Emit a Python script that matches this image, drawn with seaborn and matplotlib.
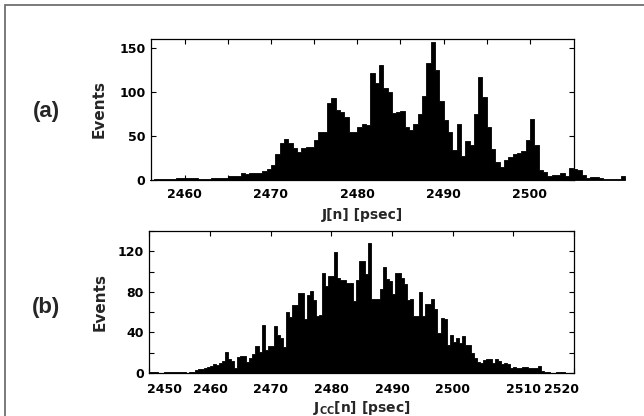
import numpy as np
import pandas as pd
import matplotlib
matplotlib.use("Agg")
import matplotlib.pyplot as plt
import seaborn as sns
from matplotlib.patches import Rectangle
from matplotlib.transforms import ScaledTranslation

# ---- histogram data (0.5 ps bins) ----
bin_width = 0.5

# (a) period jitter J[n], first bin starts at 2456.0 ps
jn_start = 2456.0
jn_counts = [
    0, 1, 1, 1, 1, 1, 2, 2, 2, 2,
    2, 1, 1, 1, 2, 2, 2, 2, 4, 5,
    5, 8, 7, 8, 8, 8, 10, 13, 17, 30,
    42, 46, 42, 36, 32, 36, 38, 38, 45, 54,
    54, 87, 93, 79, 77, 72, 54, 55, 60, 63,
    62, 121, 110, 131, 104, 100, 76, 77, 78, 60,
    57, 63, 75, 95, 133, 157, 125, 90, 68, 55,
    34, 63, 27, 44, 40, 75, 117, 94, 60, 35,
    20, 15, 23, 26, 30, 31, 33, 45, 69, 40,
    11, 9, 5, 6, 6, 8, 5, 14, 13, 11,
    6, 2, 3, 3, 2, 1, 1, 1, 1, 4,
]

# (b) cycle-to-cycle jitter Jcc[n], first bin starts at 2450.0 ps
jcc_start = 2450.0
jcc_counts = [
    1, 1, 1, 0, 0, 1, 1, 1, 1, 1,
    1, 1, 0, 1, 1, 3, 4, 4, 5, 6,
    7, 9, 8, 10, 12, 21, 14, 12, 5, 16,
    17, 17, 11, 15, 19, 27, 21, 47, 23, 27,
    27, 46, 37, 35, 26, 60, 55, 67, 67, 79,
    79, 53, 77, 81, 72, 56, 57, 99, 86, 96,
    96, 119, 94, 92, 92, 89, 89, 71, 92, 110,
    110, 98, 128, 73, 73, 73, 83, 105, 93, 91,
    78, 99, 99, 94, 88, 72, 73, 56, 56, 80,
    56, 68, 68, 73, 63, 39, 54, 53, 28, 37,
    31, 35, 30, 36, 28, 28, 20, 15, 11, 10,
    13, 14, 14, 10, 14, 12, 9, 10, 9, 5,
    6, 5, 5, 6, 6, 5, 5, 5, 7, 2,
    1, 1, 0, 0, 1, 1, 1,
]

sns.set_theme(style="ticks")
plt.rcParams["font.family"] = ["DejaVu Sans"]
plt.rcParams["font.weight"] = "bold"
plt.rcParams["mathtext.fontset"] = "dejavusans"

W, H = 644, 416
fig = plt.figure(figsize=(W / 100, H / 100), dpi=100)
fig.patch.set_facecolor("white")

ax_a = fig.add_axes([151 / W, 1 - 180 / H, 423 / W, 141 / H])
ax_b = fig.add_axes([149.3 / W, 1 - 373 / H, 424.7 / W, 142 / H])


def draw_hist(ax, start, counts):
    counts = [float(c) for c in counts]
    edges = [start + bin_width * i for i in range(len(counts) + 1)]
    df = pd.DataFrame({
        "t": [e + bin_width / 2 for e in edges[:-1]],
        "n": counts,
    })
    sns.histplot(data=df, x="t", weights="n", bins=edges, element="step",
                 fill=True, color="black", alpha=1.0, linewidth=0.6,
                 edgecolor="black", ax=ax)
    for art in list(ax.collections) + list(ax.lines) + list(ax.patches):
        art.set_clip_on(False)


def style_axes(ax):
    for s in ax.spines.values():
        s.set_visible(True)
        s.set_linewidth(0.9)
        s.set_color("black")
    ax.tick_params(which="both", direction="in", top=True, right=True,
                   width=0.8, colors="black", labelsize=9)
    ax.tick_params(which="major", length=3.5)
    ax.tick_params(which="minor", length=3.5)
    for lab in ax.get_xticklabels() + ax.get_yticklabels():
        lab.set_fontweight("bold")


# ---- panel (a) ----
draw_hist(ax_a, jn_start, jn_counts)
ax_a.set_xlim(2456.1, 2505.1)
ax_a.set_ylim(0, 160)
ax_a.set_xticks([2460, 2470, 2480, 2490, 2500])
ax_a.set_xticks([2465, 2475, 2485, 2495], minor=True)
ax_a.set_yticks([0, 50, 100, 150])
style_axes(ax_a)
ax_a.tick_params(axis="x", pad=6)
ax_a.tick_params(axis="y", pad=4)
ax_a.set_xlabel("J[n] [psec]", fontsize=10, fontweight="bold")
ax_a.set_ylabel("Events", fontsize=11, fontweight="bold")
ax_a.xaxis.set_label_coords(0.499, -0.2)
ax_a.yaxis.set_label_coords(-0.105, 0.5)

# ---- panel (b) ----
draw_hist(ax_b, jcc_start, jcc_counts)
ax_b.set_xlim(2450, 2520)
ax_b.set_ylim(0, 140)
ax_b.set_xticks([2450, 2460, 2470, 2480, 2490, 2500, 2510, 2520])
ax_b.set_yticks([0, 40, 80, 120])
ax_b.set_yticks([20, 60, 100, 140], minor=True)
style_axes(ax_b)
ax_b.tick_params(axis="x", pad=7)
ax_b.tick_params(axis="y", pad=4)
ax_b.set_xlabel(r"J$_{\mathbf{CC}}$[n] [psec]", fontsize=10, fontweight="bold")
ax_b.set_ylabel("Events", fontsize=11, fontweight="bold")
ax_b.xaxis.set_label_coords(0.50, -0.185)
ax_b.yaxis.set_label_coords(-0.097, 0.5)

# nudge crowded end labels on the lower axis
shifts = {"2450": 15, "2510": 10, "2520": -12}
for lab in ax_b.get_xticklabels():
    dx = shifts.get(lab.get_text())
    if dx:
        lab.set_transform(lab.get_transform() +
                          ScaledTranslation(dx / 100, 0, fig.dpi_scale_trans))

# panel tags
fig.text(46 / W, 1 - 112 / H, "(a)", fontsize=16, fontweight="bold",
         family="Liberation Sans", ha="center", va="center")
fig.text(46 / W, 1 - 307 / H, "(b)", fontsize=16, fontweight="bold",
         family="Liberation Sans", ha="center", va="center")

# grey page frame
fig.add_artist(Rectangle((4.5 / W, -0.1), 1.2, 1.1 - 5.5 / H,
                         transform=fig.transFigure, fill=False,
                         edgecolor="#707070", linewidth=1.3))

fig.savefig("out.png", dpi=100)
